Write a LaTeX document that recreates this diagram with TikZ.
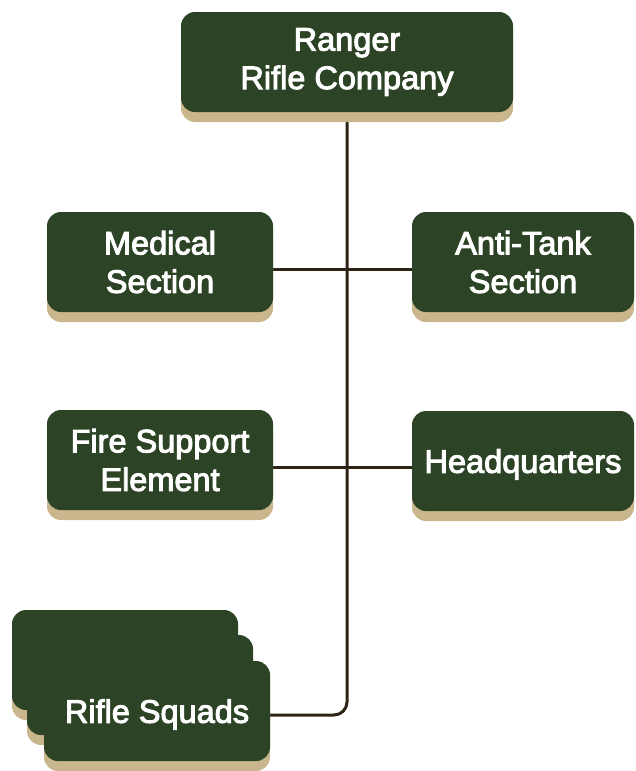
\documentclass[tikz,border=0pt]{standalone}
\usepackage{fontspec}
\setmainfont{Liberation Sans}
\newfontfamily\unitfont{Liberation Sans}[RawFeature={embolden=3}]
\usetikzlibrary{shadows, backgrounds, positioning}

\definecolor{rgreen}{HTML}{2C4425}
\definecolor{rtan}{HTML}{C9B68C}
\definecolor{rline}{HTML}{2E2416}

\begin{document}
\begin{tikzpicture}[
      x=1pt, y=-1pt,
      unit/.style={rectangle, rounded corners=14pt, fill=rgreen, text=white, align=center,
        minimum width=226pt, minimum height=100pt, inner sep=0pt,
        font=\unitfont\fontsize{32.5}{38.5}\selectfont,
        drop shadow={shadow xshift=0pt, shadow yshift=-10pt, fill=rtan, opacity=1}},
      link/.style={draw=rline, line width=3pt}
    ]
    \useasboundingbox (0,0) rectangle (636,771);

    \node[unit, minimum width=332pt] (company) at (347,62) {Ranger\\Rifle Company};
    \node[unit] (medical) at (160,262) {Medical\\Section};
    \node[unit, minimum width=222pt] (antitank) at (523,262) {Anti-Tank\\Section};
    \node[unit] (fire) at (160,460) {Fire Support\\Element};
    \node[unit, minimum width=222pt, text depth=0pt] (hq) at (523,461) {Headquarters};

    % stacked squads
    \node[unit] (squadC) at (125,660) {};
    \node[unit] (squadB) at (140,685) {};
    \node[unit, text depth=0pt] (squads) at (157,711) {Rifle Squads};

    \begin{scope}[on background layer]
      \draw[link, rounded corners=13pt] (company.south) |- ([yshift=-4pt]squads.east);
      \draw[link] ([yshift=-7pt]medical.east) -- ([yshift=-7pt]medical.east -| antitank.west);
      \draw[link] ([yshift=-7pt]fire.east) -- ([yshift=-7pt]fire.east -| hq.west);
    \end{scope}
  \end{tikzpicture}
\end{document}
